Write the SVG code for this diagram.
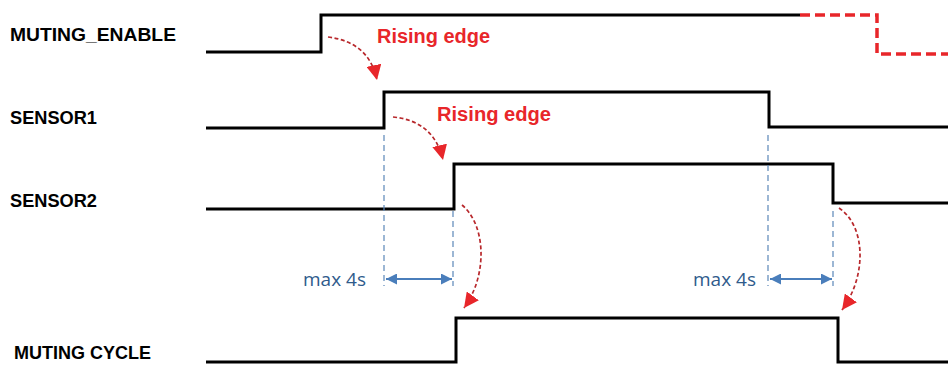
<svg xmlns="http://www.w3.org/2000/svg" width="948" height="365" viewBox="0 0 948 365">
<style>
.sig{fill:none;stroke:#000;stroke-width:3;stroke-linejoin:miter}
.lbl{font-family:"Liberation Sans",Arial,sans-serif;font-weight:bold;font-size:19px;fill:#000}
.red{font-family:"Liberation Sans",Arial,sans-serif;font-weight:bold;font-size:20px;fill:#e8262a}
.max{font-family:"Open Sans","Liberation Sans",sans-serif;font-size:18.5px;fill:#2f5b8c}
.guide{stroke:#5b87b8;stroke-width:1.2;stroke-dasharray:6 4;fill:none}
.dbl{stroke:#4a7ebb;stroke-width:2;fill:none}
.curve{stroke:#b8282c;stroke-width:1.7;stroke-dasharray:4 2.5;fill:none}
</style>
<defs>
<marker id="ra" markerUnits="userSpaceOnUse" markerWidth="15" markerHeight="15" viewBox="0 0 10 10" refX="10" refY="5" orient="auto">
<path d="M0,0 L10,5 L0,10 z" fill="#e8262a"/>
</marker>
<marker id="ba" markerUnits="userSpaceOnUse" markerWidth="13" markerHeight="11" viewBox="0 0 10 10" refX="10" refY="5" orient="auto-start-reverse">
<path d="M0,0 L10,5 L0,10 z" fill="#4a7ebb"/>
</marker>
</defs>
<g id="label-muting-enable"><text class="lbl" x="10" y="41" textLength="166" lengthAdjust="spacingAndGlyphs">MUTING_ENABLE</text></g>
<g id="label-sensor1"><text class="lbl" x="10" y="124" textLength="87" lengthAdjust="spacingAndGlyphs">SENSOR1</text></g>
<g id="label-sensor2"><text class="lbl" x="10" y="207" textLength="87" lengthAdjust="spacingAndGlyphs">SENSOR2</text></g>
<g id="label-muting-cycle"><text class="lbl" x="14" y="359" textLength="137" lengthAdjust="spacingAndGlyphs">MUTING CYCLE</text></g>
<g id="signal-muting-enable">
<path class="sig" d="M206,52 H321 V15 H800"/>
<path d="M800,15 H877 V54 H948" fill="none" stroke="#e8262a" stroke-width="3.5" stroke-dasharray="10 5"/>
</g>
<g id="signal-sensor1"><path class="sig" d="M206,128 H384 V92 H769 V127 H948"/></g>
<g id="signal-sensor2"><path class="sig" d="M206,209 H454 V164 H833 V203 H948"/></g>
<g id="signal-muting-cycle"><path class="sig" d="M206,362 H456 V318 H838 V362 H948"/></g>
<g id="connectors">
<path class="guide" d="M384,135 V286 M453,211 V286 M768,135 V286 M833,211 V286"/>
<line class="dbl" x1="386" y1="279" x2="452" y2="279" marker-start="url(#ba)" marker-end="url(#ba)"/>
<line class="dbl" x1="770" y1="279" x2="832" y2="279" marker-start="url(#ba)" marker-end="url(#ba)"/>
<path class="curve" d="M328,37 Q369,42 377,80" marker-end="url(#ra)"/>
<path class="curve" d="M393,117 Q434,121 443,160" marker-end="url(#ra)"/>
<path class="curve" d="M462,205 C486,225 488,275 464,308" marker-end="url(#ra)"/>
<path class="curve" d="M839,208 C866,226 867,276 842,310" marker-end="url(#ra)"/>
</g>
<g id="annotations">
<text class="red" x="377" y="43" textLength="113" lengthAdjust="spacingAndGlyphs">Rising edge</text>
<text class="red" x="437" y="121" textLength="114" lengthAdjust="spacingAndGlyphs">Rising edge</text>
<text class="max" x="303" y="286" textLength="63" lengthAdjust="spacingAndGlyphs">max 4s</text>
<text class="max" x="693" y="286" textLength="63" lengthAdjust="spacingAndGlyphs">max 4s</text>
</g>
</svg>
